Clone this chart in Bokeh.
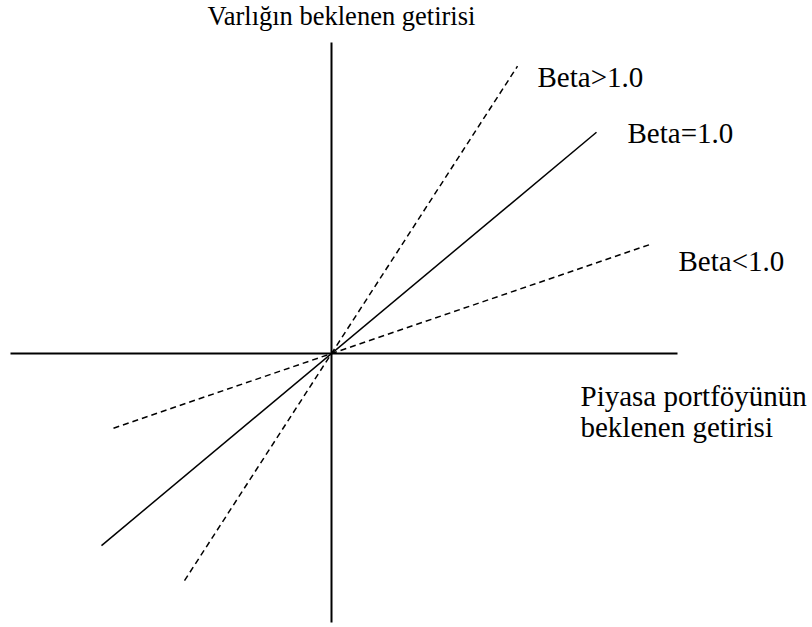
from bokeh.plotting import figure
from bokeh.models import Range1d
from bokeh.core.properties import value
from bokeh.embed import file_html
from bokeh.resources import INLINE

# Data (market expected return on x, asset expected return on y)
betas = [1.85, 1.0, 0.41]
beta_labels = ["Beta>1.0", "Beta=1.0", "Beta<1.0"]
x_low = [-1.47, -2.30, -2.18]
x_high = [1.86, 2.65, 3.19]
x_axis_extent = [-3.21, 3.46]
y_axis_extent = [-3.22, 3.725]
y_title = "Varlığın beklenen getirisi"
x_title = ["Piyasa portföyünün", "beklenen getirisi"]

# Styles / positions
dash_styles = ["6 4", "solid", "6 4"]
label_pos = [(2.06, 3.317), (2.96, 2.647), (3.47, 1.114)]
FONT = value("Liberation Serif")

p = figure(width=812, height=627, output_backend="svg", toolbar_location=None,
           x_axis_type=None, y_axis_type=None,
           x_range=Range1d(-3.31, 4.81), y_range=Range1d(-3.281, 4.228),
           min_border=0)
p.grid.visible = False
p.outline_line_color = None
p.background_fill_color = "white"
p.border_fill_color = "white"

# axes
p.line(x_axis_extent, [0, 0], line_color="black", line_width=2)
p.line([0, 0], y_axis_extent, line_color="black", line_width=2)

# beta lines
for b, lo, hi, d in zip(betas, x_low, x_high, dash_styles):
    p.line([lo, hi], [b * lo, b * hi], line_color="black", line_width=1.5, line_dash=d)

# labels
for (lx, ly), t in zip(label_pos, beta_labels):
    p.text(x=[lx], y=[ly], text=[t], text_font=FONT, text_font_size="29px",
           text_color="black", text_baseline="alphabetic", text_align="left")

p.text(x=[-1.24], y=[4.048], text=[y_title], text_font=FONT, text_font_size="26.5px",
       text_color="black", text_baseline="alphabetic", text_align="left")
p.text(x=[2.49, 2.49], y=[-0.503, -0.874], text=x_title, text_font=FONT,
       text_font_size="29px", text_color="black", text_baseline="alphabetic",
       text_align="left")

open("out.html", "w").write(file_html(p, INLINE))
